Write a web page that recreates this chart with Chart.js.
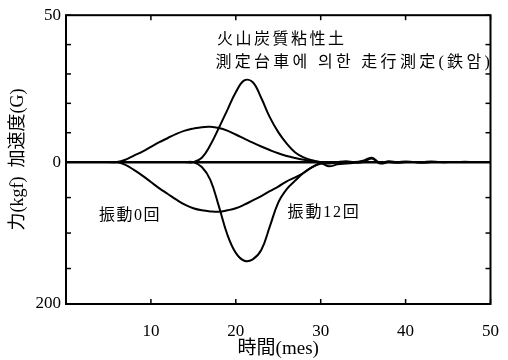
<!DOCTYPE html>
<html><head><meta charset="utf-8">
<script src="https://cdn.jsdelivr.net/npm/chart.js@4/dist/chart.umd.min.js"></script>
<style>html,body{margin:0;padding:0;background:#fff}</style>
</head><body>
<canvas id="c" width="508" height="360"></canvas>
<script>
// ---- data (time in mes, acceleration in G, force in kgf) ----
const time = [0,1,2,3,4,5,6,7,8,9,10,11,12,13,14,15,16,17,18,19,20,21,22,23,24,25,26,27,28,29,30,31,32,33,34,35,36,37,38,39,40,41,42,43,44,45,46,47,48,49,50];
const accel0  = [0,0,0,0,0,0,0,0.8,2.2,3.6,5.2,6.8,8.2,9.6,10.7,11.4,11.9,12.0,11.6,10.7,9.4,8.0,6.6,5.3,4.1,3.0,2.1,1.4,0.8,0.3,0,0,0,0,0,0,0,0,0,0,0,0,0,0,0,0,0,0,0,0,0];
const accel12 = [0,0,0,0,0,0,0,0,0,0,0,0,0,0,0,0,1.5,5.8,11.6,17.7,23.8,27.8,27.2,21.8,15.3,10.2,6.3,3.3,1.6,0.6,0,-0.5,0,0.3,0,0.5,1.5,-0.3,0.3,0,0.2,0,0,0.2,0,0,0,0.1,0,0,0];
const force0  = [0,0,0,0,0,0,0,4,11,19,28,37,45,53,60,65,68,69.5,70,68,65,60,54,48,41,34.5,27,21.5,15,7,2,0,1,0,0,0,0,0,0,0,0,0,0,0,0,0,0,0,0,0,0];
const force12 = [0,0,0,0,0,0,0,0,0,0,0,0,0,0,0,0,7,25,62,102,128,139,137,124,91,57,38,26,15,7,2,6,3,2,1,0,-5,2,0,1,0,0,1,0,0,0,0,0,0,0,0];

// ---- axes / labels ----
const xTicks = [10,20,30,40,50];
const accelTicks = [0,10,20,30,40,50];
const forceTicks = [0,50,100,150,200];
const accelMax = 50, forceMax = 200, accelMin = -48.3;
const yTickLabels = {top:'50', zero:'0', bottom:'200'};
const yTitle = '力(kgf)  加速度(G)';
const xTitle = '時間(mes)';
const notes = [
  {text:'火山炭質粘性土', x:17.8, y:41.5, axis:'y', size:16, spacing:2.5},
  {text:'測定台車에 의한 走行測定(鉄암)', x:17.6, y:33.7, axis:'y', size:16, spacing:3.3},
  {text:'振動0回', x:3.9, y:75, axis:'yF', size:16, spacing:1.5},
  {text:'振動12回', x:26.1, y:72, axis:'yF', size:16, spacing:1.8}
];

const serif = '"Liberation Serif", "Noto Sans CJK JP", serif';
const pts = arr => time.map((t,i)=>({x:t,y:arr[i]}));
const line = {borderColor:'#000', borderWidth:2, pointRadius:0, fill:false, tension:0.4};

const frameTicks = {
  id:'frameTicks',
  afterDraw(chart){
    const {ctx, chartArea:{left,right,top,bottom}, scales:{x,y,yF}} = chart;
    ctx.save();
    ctx.strokeStyle='#000';
    ctx.lineWidth=2;
    ctx.strokeRect(left,top,right-left,bottom-top);
    ctx.lineWidth=1.5;
    const seg=(a,b,c,d)=>{ctx.beginPath();ctx.moveTo(a,b);ctx.lineTo(c,d);ctx.stroke();};
    xTicks.forEach(v=>{const p=x.getPixelForValue(v); seg(p,bottom,p,bottom-5); seg(p,top,p,top+5);});
    accelTicks.forEach(v=>{const p=y.getPixelForValue(v); seg(left,p,left+5,p); seg(right,p,right-5,p);});
    forceTicks.forEach(v=>{const p=yF.getPixelForValue(v); seg(left,p,left+5,p); seg(right,p,right-5,p);});
    ctx.restore();
  }
};
const notesPlugin = {
  id:'notes',
  afterDatasetsDraw(chart){
    const {ctx, scales} = chart;
    ctx.save();
    ctx.fillStyle='#000';
    ctx.textAlign='left';
    ctx.textBaseline='middle';
    notes.forEach(n=>{
      ctx.font = n.size+'px '+serif;
      ctx.letterSpacing = n.spacing+'px';
      ctx.fillText(n.text, scales.x.getPixelForValue(n.x), scales[n.axis].getPixelForValue(n.y));
    });
    ctx.restore();
  }
};

new Chart(document.getElementById('c'), {
  type:'line',
  data:{datasets:[
    Object.assign({label:'加速度 振動0回', data:pts(accel0), yAxisID:'y'}, line),
    Object.assign({label:'加速度 振動12回', data:pts(accel12), yAxisID:'y'}, line),
    Object.assign({label:'力 振動0回', data:pts(force0), yAxisID:'yF'}, line),
    Object.assign({label:'力 振動12回', data:pts(force12), yAxisID:'yF'}, line)
  ]},
  options:{
    responsive:false, animation:false,
    layout:{padding:{top:15,right:10,left:0,bottom:0}},
    plugins:{legend:{display:false}, tooltip:{enabled:false}},
    scales:{
      x:{type:'linear', min:0, max:50,
        afterBuildTicks(s){ s.ticks = xTicks.map(v=>({value:v})); },
        afterFit(s){ s.height = 56; },
        grid:{display:false}, border:{display:false},
        ticks:{color:'#000', font:{family:serif, size:17}, padding:9, maxRotation:0},
        title:{display:true, text:xTitle, color:'#000', font:{family:serif, size:19}, padding:{bottom:0}}
      },
      y:{type:'linear', min:accelMin, max:accelMax, position:'left',
        afterBuildTicks(s){ s.ticks = [{value:accelMin},{value:0},{value:accelMax}]; },
        afterFit(s){ s.width = 66; },
        grid:{drawTicks:false, color:c=>c.tick && c.tick.value===0?'#000':'rgba(0,0,0,0)', lineWidth:c=>c.tick && c.tick.value===0?2.5:0},
        border:{display:false},
        ticks:{color:'#000', font:{family:serif, size:17}, padding:5,
          callback:v=> v===accelMax?yTickLabels.top:(v===0?yTickLabels.zero:yTickLabels.bottom)},
        title:{display:true, text:yTitle, color:'#000', font:{family:serif, size:18}, padding:{top:7}}
      },
      yF:{type:'linear', display:false, reverse:true,
        min:-forceMax*accelMax/(-accelMin), max:forceMax}
    }
  },
  plugins:[frameTicks, notesPlugin]
});
</script>
</body></html>
